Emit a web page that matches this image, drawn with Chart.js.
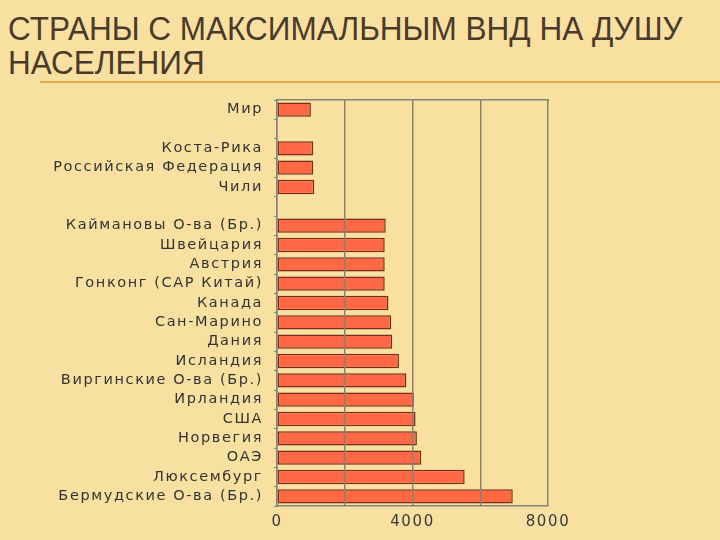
<!DOCTYPE html>
<html>
<head>
<meta charset="utf-8">
<script src="https://cdn.jsdelivr.net/npm/chart.js@4/dist/chart.umd.min.js"></script>
<style>
  html, body { margin: 0; padding: 0; }
  body { width: 720px; height: 540px; background: #F8E0A0; position: relative; overflow: hidden; }
  .title {
    position: absolute; left: 8px; top: 12px;
    font-family: "Liberation Sans", Arial, sans-serif;
    font-size: 33px; line-height: 34px; color: #4B3A2A;
    transform: scaleX(0.955); transform-origin: 0 0; white-space: nowrap;
  }
  .rule { position: absolute; left: 40px; top: 81px; width: 680px; height: 2px; background: #E6A94A; }
  #gniChart { position: absolute; left: 0; top: 0; }
</style>
</head>
<body>
<div class="title">СТРАНЫ С МАКСИМАЛЬНЫМ ВНД НА ДУШУ<br>НАСЕЛЕНИЯ</div>
<div class="rule"></div>
<canvas id="gniChart" width="720" height="540"></canvas>
<script>
//----------------------
// Data
//----------------------

const countries = ['Мир', '', 'Коста-Рика', 'Российская Федерация', 'Чили', '',
    'Каймановы О-ва (Бр.)', 'Швейцария', 'Австрия', 'Гонконг (САР Китай)', 'Канада',
    'Сан-Марино', 'Дания', 'Исландия', 'Виргинские О-ва (Бр.)', 'Ирландия', 'США',
    'Норвегия', 'ОАЭ', 'Люксембург', 'Бермудские О-ва (Бр.)'];
const gniValues = [1000, null, 1070, 1070, 1100, null,
    3210, 3180, 3180, 3180, 3290,
    3370, 3400, 3600, 3820, 4040, 4090,
    4130, 4260, 5540, 6960];
const xTickLabels = ['0', '4000', '8000'];

//----------------------
// Chart
//----------------------

const gridColor = '#85827A';

const wideText = { // the source labels look stretched, so space the letters out a bit
    id: 'wideText',
    beforeDraw(chart) {
        chart.ctx.letterSpacing = '1.6px';
    }
};

var ctx = document.getElementById('gniChart').getContext('2d');
var chart = new Chart(ctx, {
    type: 'bar',
    data: {
        labels: countries,
        datasets: [{
            data: gniValues,
            backgroundColor: '#FF6845',
            borderColor: '#7A2C1C',
            borderWidth: 1.5,
            borderSkipped: false,
            barPercentage: 0.74,
            categoryPercentage: 1
        }]
    },
    options: {
        indexAxis: 'y',
        responsive: false,
        animation: false,
        layout: { padding: { top: 100, right: 172, bottom: 0, left: 0 } },
        plugins: {
            legend: { display: false },
            tooltip: { enabled: false }
        },
        scales: {
            x: {
                min: 0,
                max: 8000,
                ticks: {
                    stepSize: 2000,
                    color: '#3A3A3A',
                    padding: 7,
                    maxRotation: 0,
                    font: { family: 'DejaVu Sans', size: 15 },
                    callback: v => xTickLabels.includes(String(v)) ? String(v) : ''
                },
                // grid goes over the bars like in the source; border must share its layer
                grid: { color: gridColor, lineWidth: 1.5, drawTicks: false, z: 1 },
                border: { color: gridColor, width: 1.5, z: 1 },
                afterFit: s => { s.height = 34; }
            },
            xTop: { // only the frame line along the top
                position: 'top',
                min: 0,
                max: 8000,
                ticks: { display: false },
                grid: { display: false, drawTicks: false },
                border: { color: gridColor, width: 1.5 },
                afterFit: s => { s.height = 0; }
            },
            y: {
                ticks: {
                    autoSkip: false,
                    color: '#333333',
                    padding: 11,
                    font: { family: 'DejaVu Sans', size: 14.5 }
                },
                grid: { color: gridColor, drawOnChartArea: false, tickLength: 3 },
                border: { color: gridColor, width: 1.5 },
                afterFit: s => { s.width = 277; }
            }
        }
    },
    plugins: [wideText]
});
</script>
</body>
</html>
